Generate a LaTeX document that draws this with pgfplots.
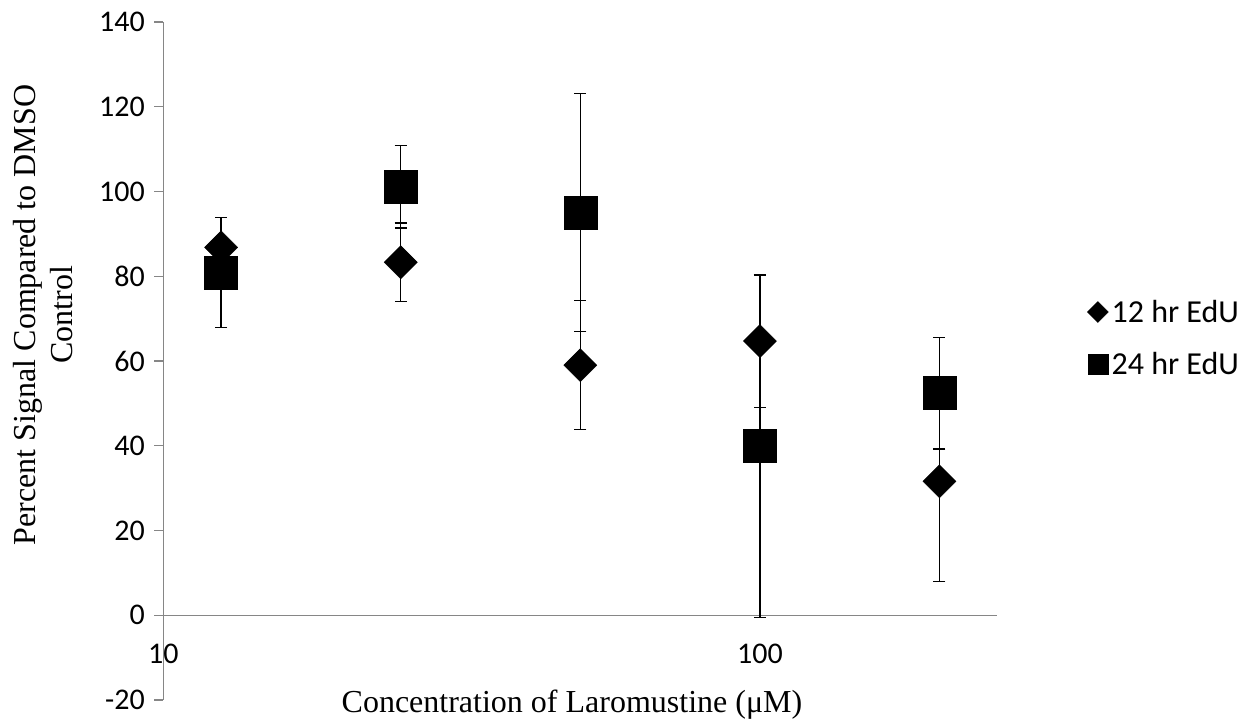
\documentclass[border=0pt]{standalone}
\usepackage{pgfplots}
\usepackage{pgfplotstable}
\usepackage{fontspec}
\pgfplotsset{compat=1.18}
\setmainfont{Liberation Serif}
\newfontfamily\calibri{Carlito}
\definecolor{axgray}{RGB}{134,134,134}
\newcommand\tl[1]{\hbox{\calibri\fontsize{30}{36}\selectfont #1}}

\pgfplotstableread{
x y e
12.5 86.8 7.1
25 83.3 9.3
50 59.0 15.2
100 64.7 15.6
200 31.6 23.7
}\twelve
\pgfplotstableread{
x y e
12.5 80.9 13.0
25 101.1 9.7
50 95.1 28.1
100 39.9 40.4
200 52.4 13.2
}\twentyfour

\begin{document}
\begin{tikzpicture}
\useasboundingbox (0,0) rectangle (1252pt,719pt);
\begin{axis}[
  at={(163.3pt,19pt)}, anchor=south west,
  scale only axis, width=834pt, height=678pt,
  xmode=log, log basis x=10,
  xmin=10, xmax=250, ymin=-20, ymax=140,
  axis x line=middle, axis y line=left,
  axis line style={-, draw=axgray, line width=1.2pt},
  hide obscured x ticks=false, hide obscured y ticks=false,
  xtick={10,100}, xticklabels={\tl{10},\tl{100}},
  xminorticks=false,
  x tick style={draw=none},
  ytick={-20,0,20,40,60,80,100,120,140},
  yticklabels={\tl{-20},\tl{0},\tl{20},\tl{40},\tl{60},\tl{80},\tl{100},\tl{120},\tl{140}},
  y tick style={draw=axgray, line width=1.2pt},
  major tick length=9pt,
  tick align=outside,
  xticklabel style={yshift=-16pt},
  yticklabel style={xshift=-6pt},
  xlabel={Concentration of Laromustine (μM)},
  xlabel style={at={(axis description cs:0.49,-0.0187)}, anchor=base, font=\fontsize{32}{38}\selectfont},
  ylabel={Percent Signal Compared to DMSO\\Control},
  ylabel style={at={(axis description cs:-0.144,0.568)}, anchor=center, align=center, font=\fontsize{32}{37}\selectfont},
  legend style={draw=none, fill=none, at={(axis description cs:1.1075,0.534)}, anchor=west, inner sep=0pt, row sep=24pt, column sep=0pt, nodes={inner xsep=3pt}, font=\calibri\fontsize{32}{38}\selectfont},
  legend cell align=left,
  clip=false,
]
\addplot[only marks, black, mark=square*, mark size=11.7pt,
  mark options={rotate=45, fill=black, draw=black},
  legend image code/.code={\fill[black] (0pt,-10.5pt) -- (10.5pt,0pt) -- (0pt,10.5pt) -- (-10.5pt,0pt) -- cycle;},
  error bars/.cd, y dir=both, y explicit,
  error bar style={line width=1.3pt, black},
  error mark options={rotate=90, mark size=6pt, line width=1.3pt, black}]
  table[x=x, y=y, y error=e] {\twelve};
\addlegendentry{12 hr EdU}
\addplot[only marks, black, mark=square*, mark size=16.5pt,
  mark options={fill=black, draw=black},
  legend image code/.code={\fill[black] (-10pt,-10pt) rectangle (10pt,10pt);},
  error bars/.cd, y dir=both, y explicit,
  error bar style={line width=1.3pt, black},
  error mark options={rotate=90, mark size=6pt, line width=1.3pt, black}]
  table[x=x, y=y, y error=e] {\twentyfour};
\addlegendentry{24 hr EdU}
\end{axis}
\end{tikzpicture}
\end{document}
